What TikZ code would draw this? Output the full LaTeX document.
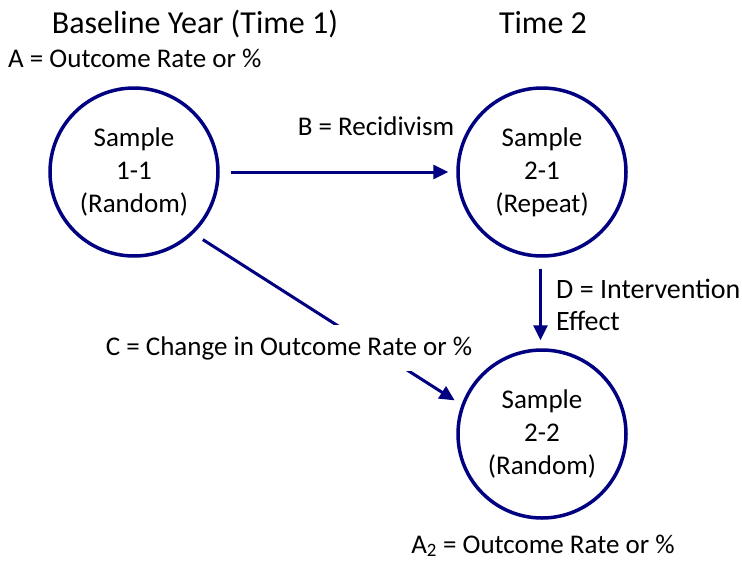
\documentclass[tikz,border=0pt]{standalone}
\usepackage{fontspec}
\setmainfont{Carlito}
\usetikzlibrary{arrows.meta}
\definecolor{navy}{RGB}{0,0,128}

\begin{document}
\begin{tikzpicture}[x=1pt,y=-1pt,
	samp/.style={circle,draw=navy,line width=3.5pt,minimum size=168pt,inner sep=0pt,align=center,font=\fontsize{27}{33}\selectfont},
	link/.style={navy,line width=3pt,-{Triangle[length=15pt,width=14pt]},shorten <=11pt,shorten >=8pt},
	lbl/.style={font=\fontsize{27}{32}\selectfont,inner sep=0pt},
	head/.style={font=\fontsize{32}{36}\selectfont,inner sep=0pt}]
	\useasboundingbox (0,0) rectangle (742,563);
	% column headings
	\node[head,anchor=base] (t1) at (195,33) {Baseline Year (Time 1)};
	\node[head,anchor=base] (t2) at (543,33) {Time 2};
	\node[lbl,anchor=base west] (ra) at (8,67) {A = Outcome Rate or \%};
	% the three samples
	\node[samp] (s11) at (134,172) {Sample\\1-1\\(Random)};
	\node[samp] (s21) at (542,172) {Sample\\2-1\\(Repeat)};
	\node[samp] (s22) at (542,434) {Sample\\2-2\\(Random)};
	% arrows between samples
	\draw[link] (s11) -- (s21);
	\draw[link] (s21.-91) -- (s22.91);
	\draw[link] (s11.-46) -- (s22.160);
	\node[lbl,anchor=base] (lb) at (376,135) {B = Recidivism};
	\node[lbl,anchor=west,align=left,font=\fontsize{28}{32}\selectfont] (ld) at (556,305) {D = Intervention\\Effect};
	\node[lbl,fill=white,inner xsep=2pt,inner ysep=11pt] (lc) at (289,348) {C = Change in Outcome Rate or \%};
	\node[lbl,anchor=base] (ra2) at (543,553) {A\textsubscript{2} = Outcome Rate or \%};
\end{tikzpicture}
\end{document}
